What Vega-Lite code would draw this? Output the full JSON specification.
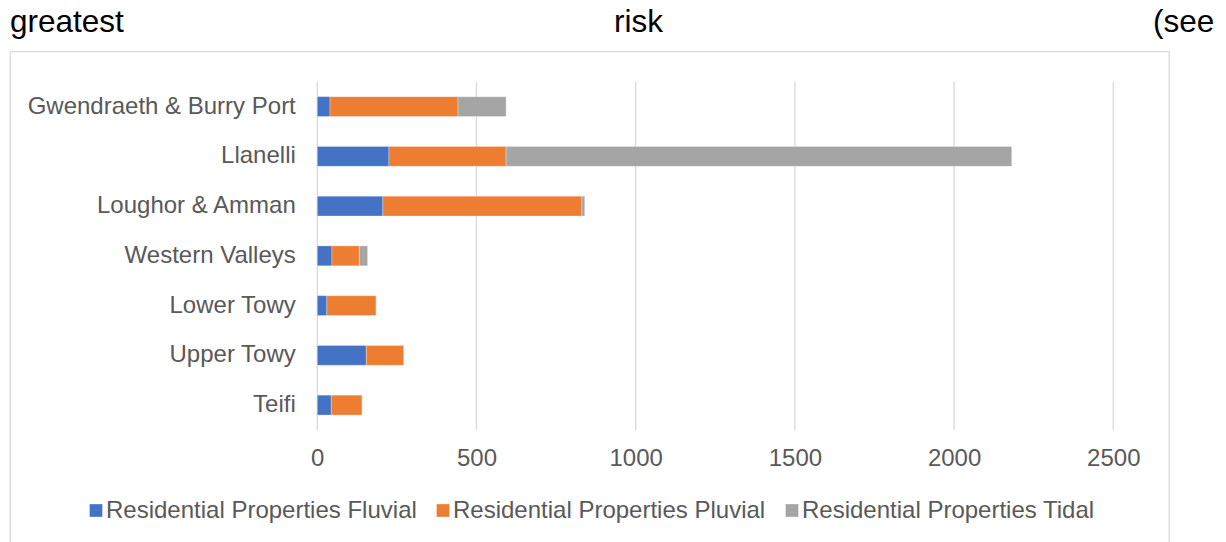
{
  "$schema": "https://vega.github.io/schema/vega-lite/v6.json",
  "autosize": {"type": "none"},
  "width": 1159,
  "height": 500,
  "padding": {"left": 10, "top": 51.5, "right": 57, "bottom": 0},
  "background": "white",
  "title": {
    "text": "greatest\u00a0\u00a0\u00a0\u00a0\u00a0\u00a0\u00a0\u00a0\u00a0\u00a0\u00a0\u00a0\u00a0\u00a0\u00a0\u00a0\u00a0\u00a0\u00a0\u00a0\u00a0\u00a0\u00a0\u00a0\u00a0\u00a0\u00a0\u00a0\u00a0\u00a0\u00a0\u00a0\u00a0\u00a0\u00a0\u00a0\u00a0\u00a0\u00a0\u00a0\u00a0\u00a0\u00a0\u00a0\u00a0\u00a0\u00a0\u00a0\u00a0\u00a0\u00a0\u00a0\u00a0\u00a0\u00a0\u00a0risk\u00a0\u00a0\u00a0\u00a0\u00a0\u00a0\u00a0\u00a0\u00a0\u00a0\u00a0\u00a0\u00a0\u00a0\u00a0\u00a0\u00a0\u00a0\u00a0\u00a0\u00a0\u00a0\u00a0\u00a0\u00a0\u00a0\u00a0\u00a0\u00a0\u00a0\u00a0\u00a0\u00a0\u00a0\u00a0\u00a0\u00a0\u00a0\u00a0\u00a0\u00a0\u00a0\u00a0\u00a0\u00a0\u00a0\u00a0\u00a0\u00a0\u00a0\u00a0\u00a0\u00a0\u00a0\u00a0\u00a0(see",
    "anchor": "start",
    "frame": "group",
    "orient": "top",
    "offset": 20,
    "dy": 32,
    "baseline": "alphabetic",
    "font": "Liberation Sans",
    "fontSize": 31.5,
    "fontWeight": "normal",
    "color": "#000000",
    "limit": 0
  },
  "config": {
    "view": {"stroke": "#d9d9d9", "strokeWidth": 1.3},
    "font": "Liberation Sans"
  },
  "datasets": {
    "grid": [
      {"tick": 0},
      {"tick": 500},
      {"tick": 1000},
      {"tick": 1500},
      {"tick": 2000},
      {"tick": 2500}
    ],
    "props": [
      {"area": "Gwendraeth & Burry Port", "series": "Residential Properties Fluvial", "count": 40},
      {"area": "Gwendraeth & Burry Port", "series": "Residential Properties Pluvial", "count": 402},
      {"area": "Gwendraeth & Burry Port", "series": "Residential Properties Tidal", "count": 151},
      {"area": "Llanelli", "series": "Residential Properties Fluvial", "count": 225},
      {"area": "Llanelli", "series": "Residential Properties Pluvial", "count": 368},
      {"area": "Llanelli", "series": "Residential Properties Tidal", "count": 1588},
      {"area": "Loughor & Amman", "series": "Residential Properties Fluvial", "count": 206},
      {"area": "Loughor & Amman", "series": "Residential Properties Pluvial", "count": 625},
      {"area": "Loughor & Amman", "series": "Residential Properties Tidal", "count": 9},
      {"area": "Western Valleys", "series": "Residential Properties Fluvial", "count": 46},
      {"area": "Western Valleys", "series": "Residential Properties Pluvial", "count": 86},
      {"area": "Western Valleys", "series": "Residential Properties Tidal", "count": 26},
      {"area": "Lower Towy", "series": "Residential Properties Fluvial", "count": 30},
      {"area": "Lower Towy", "series": "Residential Properties Pluvial", "count": 155},
      {"area": "Lower Towy", "series": "Residential Properties Tidal", "count": 0},
      {"area": "Upper Towy", "series": "Residential Properties Fluvial", "count": 154},
      {"area": "Upper Towy", "series": "Residential Properties Pluvial", "count": 118},
      {"area": "Upper Towy", "series": "Residential Properties Tidal", "count": 0},
      {"area": "Teifi", "series": "Residential Properties Fluvial", "count": 44},
      {"area": "Teifi", "series": "Residential Properties Pluvial", "count": 97},
      {"area": "Teifi", "series": "Residential Properties Tidal", "count": 0}
    ]
  },
  "encoding": {
    "x": {
      "type": "quantitative",
      "scale": {"domain": [-965.1, 2674.9], "nice": false, "zero": false},
      "axis": {
        "title": null,
        "values": [0, 500, 1000, 1500, 2000, 2500],
        "format": "d",
        "offset": -107,
        "domain": false,
        "ticks": false,
        "tickSize": 0,
        "grid": false,
        "labelPadding": 2,
        "labelFlush": false,
        "labelOverlap": false,
        "labelFont": "Liberation Sans",
        "labelFontSize": 24,
        "labelColor": "#595959"
      }
    }
  },
  "layer": [
    {
      "data": {"name": "grid"},
      "mark": {"type": "rule", "color": "#d9d9d9", "strokeWidth": 1.3},
      "encoding": {
        "x": {"field": "tick"},
        "y": {"datum": "Gwendraeth & Burry Port", "type": "nominal", "bandPosition": 0},
        "y2": {"datum": "Teifi", "bandPosition": 1}
      }
    },
    {
      "data": {"name": "props"},
      "mark": {"type": "bar", "height": {"band": 0.4}, "stroke": "#ffffff", "strokeWidth": 0.5, "strokeOpacity": 0.6},
      "encoding": {
        "y": {
          "field": "area",
          "type": "nominal",
          "sort": ["Gwendraeth & Burry Port", "Llanelli", "Loughor & Amman", "Western Valleys", "Lower Towy", "Upper Towy", "Teifi"],
          "scale": {"paddingInner": 0, "paddingOuter": 0, "range": [30.2, 378.5], "round": false},
          "axis": {
            "title": null,
            "orient": "left",
            "offset": -307.3,
            "domain": false,
            "ticks": false,
            "tickSize": 0,
            "grid": false,
            "labelPadding": 22,
            "labelFont": "Liberation Sans",
            "labelFontSize": 24,
            "labelColor": "#595959",
            "labelLimit": 0
          }
        },
        "x": {"field": "count", "stack": "zero"},
        "color": {
          "field": "series",
          "type": "nominal",
          "scale": {
            "domain": ["Residential Properties Fluvial", "Residential Properties Pluvial", "Residential Properties Tidal"],
            "range": ["#4472c4", "#ed7d31", "#a5a5a5"]
          },
          "legend": {
            "title": null,
            "orient": "none",
            "legendX": 74,
            "legendY": 447,
            "direction": "horizontal",
            "symbolType": "square",
            "symbolSize": 161,
            "symbolStrokeWidth": 0,
            "symbolOpacity": 1,
            "labelFont": "Liberation Sans",
            "labelFontSize": 24,
            "labelColor": "#595959",
            "labelOffset": -2,
            "labelLimit": 0,
            "columnPadding": 14,
            "padding": 0
          }
        },
        "order": {"field": "series", "sort": "ascending"}
      }
    }
  ]
}
